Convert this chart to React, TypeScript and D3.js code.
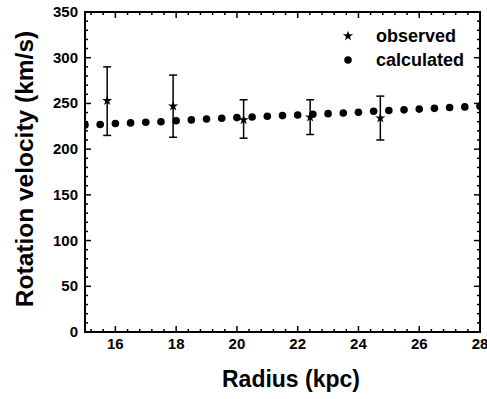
import React, { useEffect, useRef } from 'react';
import * as d3 from 'd3';

// observed rotation velocities with error bars
const obsRadius = [15.73, 17.9, 20.22, 22.41, 24.72];
const obsVel = [253, 247, 232, 235, 234];
const obsHigh = [290, 281, 254, 254, 258];
const obsLow = [215, 213, 212, 216, 210];

// calculated curve, every 0.5 kpc
const calcRadius = [15, 15.5, 16, 16.5, 17, 17.5, 18, 18.5, 19, 19.5, 20, 20.5, 21, 21.5, 22, 22.5, 23, 23.5, 24, 24.5, 25, 25.5, 26, 26.5, 27, 27.5, 28];
const calcVel = [226.5, 227, 228, 228.7, 229.4, 230, 231, 232, 233, 233.8, 234.5, 235.2, 236, 236.7, 237.4, 238.1, 238.8, 239.6, 240.3, 241.5, 242.3, 243, 243.8, 244.6, 245.5, 246.2, 247];

const xTicks = [16, 18, 20, 22, 24, 26, 28];
const yTicks = [0, 50, 100, 150, 200, 250, 300, 350];
const legendLabels = ['observed', 'calculated'];

const App = () => {
  const svgRef = useRef<SVGSVGElement>(null);

  useEffect(() => {
    document.body.style.margin = '0';
    const W = 487;
    const H = 399;
    const margin = { top: 12, right: 7, bottom: 67, left: 85 };
    const width = W - margin.left - margin.right;
    const height = H - margin.top - margin.bottom;
    const font = '"Liberation Sans", Arial, sans-serif';

    const svg = d3.select(svgRef.current);
    svg.selectAll('*').remove();
    svg.attr('width', W).attr('height', H);

    const chart = svg.append('g').attr('transform', `translate(${margin.left},${margin.top})`);

    const x = d3.scaleLinear().domain([15, 28]).range([0, width]);
    const y = d3.scaleLinear().domain([0, 350]).range([height, 0]);

    chart.append('clipPath').attr('id', 'plotclip')
      .append('rect').attr('width', width).attr('height', height);

    // ticks (inward) on all four sides
    const xMinor = d3.range(15.2, 28.001, 0.4).filter(v => !xTicks.some(t => Math.abs(t - v) < 1e-6));
    const yMinor = d3.range(0, 351, 10).filter(v => v % 50 !== 0);
    const tickG = chart.append('g').attr('stroke', '#000').attr('stroke-width', 1.5);
    const addX = (vals: number[], len: number) => {
      vals.forEach(v => {
        tickG.append('line').attr('x1', x(v)).attr('x2', x(v)).attr('y1', height).attr('y2', height - len);
        tickG.append('line').attr('x1', x(v)).attr('x2', x(v)).attr('y1', 0).attr('y2', len);
      });
    };
    const addY = (vals: number[], len: number) => {
      vals.forEach(v => {
        tickG.append('line').attr('y1', y(v)).attr('y2', y(v)).attr('x1', 0).attr('x2', len);
        tickG.append('line').attr('y1', y(v)).attr('y2', y(v)).attr('x1', width).attr('x2', width - len);
      });
    };
    addX(xTicks, 6);
    addX(xMinor, 3);
    addY(yTicks, 6);
    addY(yMinor, 3);

    chart.append('rect').attr('width', width).attr('height', height)
      .attr('fill', 'none').attr('stroke', '#000').attr('stroke-width', 2);

    // tick labels
    chart.append('g').selectAll('text').data(xTicks).enter().append('text')
      .attr('x', d => x(d)).attr('y', height + 17)
      .attr('text-anchor', 'middle')
      .style('font', `bold 15px ${font}`)
      .text(d => d);
    chart.append('g').selectAll('text').data(yTicks).enter().append('text')
      .attr('x', -7).attr('y', d => y(d) + 5)
      .attr('text-anchor', 'end')
      .style('font', `bold 15px ${font}`)
      .text(d => d);

    // axis titles
    svg.append('text').attr('x', 291).attr('y', 387)
      .attr('text-anchor', 'middle')
      .style('font', `bold 23px ${font}`)
      .text('Radius (kpc)');
    svg.append('text')
      .attr('transform', `translate(33,169) rotate(-90)`)
      .attr('text-anchor', 'middle')
      .style('font', `bold 24.5px ${font}`)
      .text('Rotation velocity (km/s)');

    const plot = chart.append('g').attr('clip-path', 'url(#plotclip)');

    // calculated dots
    plot.selectAll('circle.calc').data(calcRadius).enter().append('circle')
      .attr('class', 'calc')
      .attr('cx', d => x(d)).attr('cy', (d, i) => y(calcVel[i]))
      .attr('r', 3.8).attr('fill', '#000');

    // error bars
    const err = plot.append('g').attr('stroke', '#000').attr('stroke-width', 1.5);
    obsRadius.forEach((r, i) => {
      const cx = x(r);
      err.append('line').attr('x1', cx).attr('x2', cx).attr('y1', y(obsHigh[i])).attr('y2', y(obsLow[i]));
      err.append('line').attr('x1', cx - 4).attr('x2', cx + 4).attr('y1', y(obsHigh[i])).attr('y2', y(obsHigh[i]));
      err.append('line').attr('x1', cx - 4).attr('x2', cx + 4).attr('y1', y(obsLow[i])).attr('y2', y(obsLow[i]));
    });

    const star = d3.symbol().type(d3.symbolStar).size(32);
    plot.selectAll('path.obs').data(obsRadius).enter().append('path')
      .attr('class', 'obs')
      .attr('d', star)
      .attr('transform', (d, i) => `translate(${x(d)},${y(obsVel[i])})`)
      .attr('fill', '#000');

    // legend
    const lg = svg.append('g');
    legendLabels.forEach((lab, i) => {
      const ly = 36 + i * 24;
      if (i === 0) {
        lg.append('path').attr('d', star).attr('transform', `translate(348,${ly})`).attr('fill', '#000');
      } else {
        lg.append('circle').attr('cx', 348).attr('cy', ly).attr('r', 3.8).attr('fill', '#000');
      }
      lg.append('text').attr('x', 376).attr('y', ly + 6)
        .style('font', `bold 18px ${font}`)
        .text(lab);
    });
  }, []);

  return <svg ref={svgRef} style={{ display: 'block' }}></svg>;
};

export default App;
